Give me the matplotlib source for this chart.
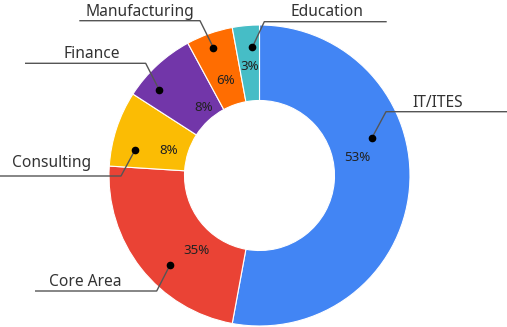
import matplotlib
matplotlib.use("Agg")
import matplotlib.pyplot as plt
import numpy as np

# ---- data ----
categories = ["IT/ITES", "Core Area", "Consulting", "Finance", "Manufacturing", "Education"]
slice_values = [52.9, 23.1, 8.1, 8.0, 5.0, 2.9]          # share of the ring as drawn
value_labels = ["53%", "35%", "8%", "8%", "6%", "3%"]      # labels as printed
colors = ["#4285F4", "#EA4335", "#FBBC04", "#7236A9", "#FF6D01", "#46BDC6"]

# ---- layout (pixel coords, origin top-left) ----
W, H = 507, 327
center = (259.5, 175.5)
radius = 150.5
ring_width = 75.5
pct_pos = [(357.7, 157.3), (196.7, 250.7), (168.3, 150.0), (203.3, 107.3), (226.0, 80.0), (250.0, 66.0)]
dot_pos = [(371.7, 138.3), (170.0, 265.0), (135.0, 150.0), (159.3, 90.0), (213.3, 47.5), (252.3, 47.3)]
elbow_pos = [(386.0, 111.7), (156.7, 291.0), (121.0, 176.0), (145.7, 63.3), (200.0, 20.7), (264.3, 21.7)]
line_end_x = [507.0, 35.0, 0.0, 25.0, 79.3, 386.7]
text_pos = [(438.0, 106.7), (85.6, 286.0), (52.0, 166.7), (91.7, 58.3), (139.5, 15.5), (327.0, 16.0)]

def Y(y):
    return H - y

fig = plt.figure(figsize=(W / 100, H / 100), dpi=100)
ax = fig.add_axes([0, 0, 1, 1])
ax.pie(slice_values, colors=colors, startangle=90, counterclock=False,
       center=(center[0], Y(center[1])), radius=radius,
       wedgeprops=dict(width=ring_width, edgecolor="white", linewidth=0.8))
ax.set_xlim(0, W)
ax.set_ylim(0, H)
ax.set_aspect("equal")
ax.axis("off")

font = "Noto Sans"
for i, cat in enumerate(categories):
    px, py = pct_pos[i]
    ax.text(px, Y(py), value_labels[i], ha="center", va="center",
            fontsize=9.6, color="#222222", family=font)
    dx, dy = dot_pos[i]
    ex, ey = elbow_pos[i]
    lx = line_end_x[i]
    ax.plot([dx, ex, lx], [Y(dy), Y(ey), Y(ey)], color="#555555", lw=1.0,
            solid_capstyle="butt", zorder=3)
    ax.plot([dx], [Y(dy)], "o", color="black", ms=4.5, zorder=4)
    tx, ty = text_pos[i]
    ax.text(tx, Y(ty), cat, ha="center", va="baseline", fontsize=11.2,
            color="#333333", family=font)

fig.savefig("out.png", dpi=100)
